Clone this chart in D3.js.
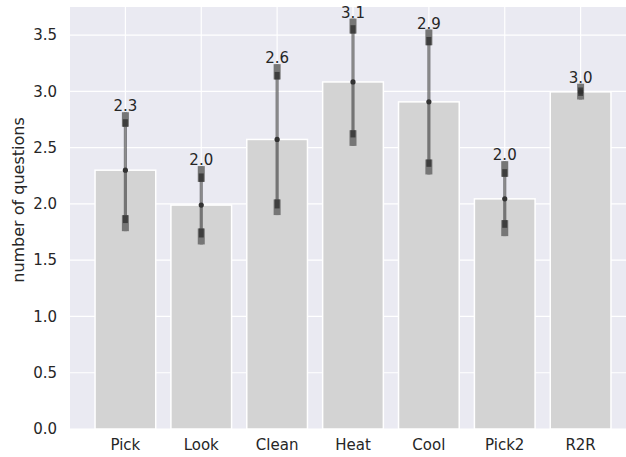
<!DOCTYPE html>
<html>
<head>
<meta charset="utf-8">
<script src="https://cdn.jsdelivr.net/npm/d3@7"></script>
<style>
  html, body { margin: 0; padding: 0; background: #ffffff; }
  svg text { font-family: "DejaVu Sans", sans-serif; fill: #262626; }
</style>
</head>
<body>
<svg id="chart" width="626" height="457"></svg>
<script>
// Task types and mean number of questions per episode
const categories = ["Pick", "Look", "Clean", "Heat", "Cool", "Pick2", "R2R"];
const means      = [2.30, 1.99, 2.573, 3.084, 2.907, 2.045, 2.996];
// Nested spread intervals around each mean (outer, middle, inner)
const outerHi = [2.815, 2.336, 3.242, 3.647, 3.550, 2.380, 3.068];
const outerLo = [1.758, 1.640, 1.901, 2.516, 2.262, 1.714, 2.928];
const midHi   = [2.753, 2.271, 3.173, 3.588, 3.484, 2.309, 3.035];
const midLo   = [1.830, 1.702, 1.960, 2.591, 2.330, 1.788, 2.960];
const innerHi = [2.686, 2.196, 3.106, 3.514, 3.410, 2.241, 2.996];
const innerLo = [1.900, 1.782, 2.040, 2.655, 2.395, 1.856, 2.996];
const yTicks  = [0, 0.5, 1.0, 1.5, 2.0, 2.5, 3.0, 3.5];
const yLabel  = "number of questions";

const rows = categories.map((c, i) => ({
  cat: c, mean: means[i],
  oHi: outerHi[i], oLo: outerLo[i],
  mHi: midHi[i], mLo: midLo[i],
  iHi: innerHi[i], iLo: innerLo[i]
}));

const svg = d3.select("#chart");
const W = 626, H = 457;
const plot = { left: 70, right: 636, top: 7, bottom: 429 };

svg.append("defs").append("clipPath").attr("id", "plotclip")
  .append("rect").attr("x", 0).attr("y", 0).attr("width", W).attr("height", H);

const x = d3.scaleBand()
  .domain(categories)
  .range([plot.left, plot.right])
  .paddingInner(0.2)
  .paddingOuter(0.33);

const y = d3.scaleLinear()
  .domain([0, 3.75])
  .range([plot.bottom, plot.top]);

const g = svg.append("g").attr("clip-path", "url(#plotclip)");

// Axes background
g.append("rect")
  .attr("x", plot.left).attr("y", plot.top)
  .attr("width", plot.right - plot.left)
  .attr("height", plot.bottom - plot.top)
  .attr("fill", "#eaeaf2");

// Grid
g.append("g").selectAll("line.hgrid").data(yTicks).join("line")
  .attr("x1", plot.left).attr("x2", plot.right)
  .attr("y1", d => y(d)).attr("y2", d => y(d))
  .attr("stroke", "#ffffff").attr("stroke-width", 1.2);

g.append("g").selectAll("line.vgrid").data(categories).join("line")
  .attr("x1", d => x(d) + x.bandwidth() / 2).attr("x2", d => x(d) + x.bandwidth() / 2)
  .attr("y1", plot.top).attr("y2", plot.bottom)
  .attr("stroke", "#ffffff").attr("stroke-width", 1.2);

// Bars
g.append("g").selectAll("rect").data(rows).join("rect")
  .attr("x", d => x(d.cat))
  .attr("y", d => y(d.mean))
  .attr("width", x.bandwidth())
  .attr("height", d => y(0) - y(d.mean))
  .attr("fill", "#d3d3d3")
  .attr("stroke", "#ffffff")
  .attr("stroke-width", 1.5);

// Spread markers
const eb = g.append("g").selectAll("g").data(rows).join("g")
  .attr("transform", d => `translate(${x(d.cat) + x.bandwidth() / 2},0)`);

eb.append("line")
  .attr("x1", 0).attr("x2", 0)
  .attr("y1", d => y(d.oLo)).attr("y2", d => y(d.oHi))
  .attr("stroke", "#000").attr("stroke-opacity", 0.45)
  .attr("stroke-width", 3.2);

// upper and lower outer boxes
eb.append("rect")
  .attr("x", -3.5).attr("width", 7)
  .attr("y", d => y(d.oHi)).attr("height", d => y(d.iHi) - y(d.oHi))
  .attr("fill", "#767676");
eb.append("rect")
  .attr("x", -3.5).attr("width", 7)
  .attr("y", d => y(d.iLo)).attr("height", d => y(d.oLo) - y(d.iLo))
  .attr("fill", "#767676");

// darker middle boxes
eb.append("rect")
  .attr("x", -2.5).attr("width", 5)
  .attr("y", d => y(d.mHi)).attr("height", d => y(d.iHi) - y(d.mHi))
  .attr("fill", "#3e3e3e");
eb.append("rect")
  .attr("x", -2.5).attr("width", 5)
  .attr("y", d => y(d.iLo)).attr("height", d => y(d.mLo) - y(d.iLo))
  .attr("fill", "#3e3e3e");

eb.append("circle")
  .attr("cx", 0).attr("cy", d => y(d.mean)).attr("r", 2.6)
  .attr("fill", "#333333");

// Value labels
eb.append("text")
  .attr("x", 0).attr("y", d => y(d.oHi) - 1)
  .attr("text-anchor", "middle")
  .attr("font-size", 15)
  .text(d => d.mean.toFixed(1));

// Y tick labels
svg.append("g").selectAll("text").data(yTicks).join("text")
  .attr("x", 57).attr("y", d => y(d))
  .attr("dy", "0.35em")
  .attr("text-anchor", "end")
  .attr("font-size", 15)
  .text(d => d.toFixed(1));

// X tick labels
svg.append("g").selectAll("text").data(categories).join("text")
  .attr("x", d => x(d) + x.bandwidth() / 2)
  .attr("y", 445)
  .attr("dy", "0.35em")
  .attr("text-anchor", "middle")
  .attr("font-size", 15)
  .text(d => d);

// Y axis title
svg.append("text")
  .attr("transform", "translate(24,200) rotate(-90)")
  .attr("text-anchor", "middle")
  .attr("font-size", 16)
  .text(yLabel);
</script>
</body>
</html>
